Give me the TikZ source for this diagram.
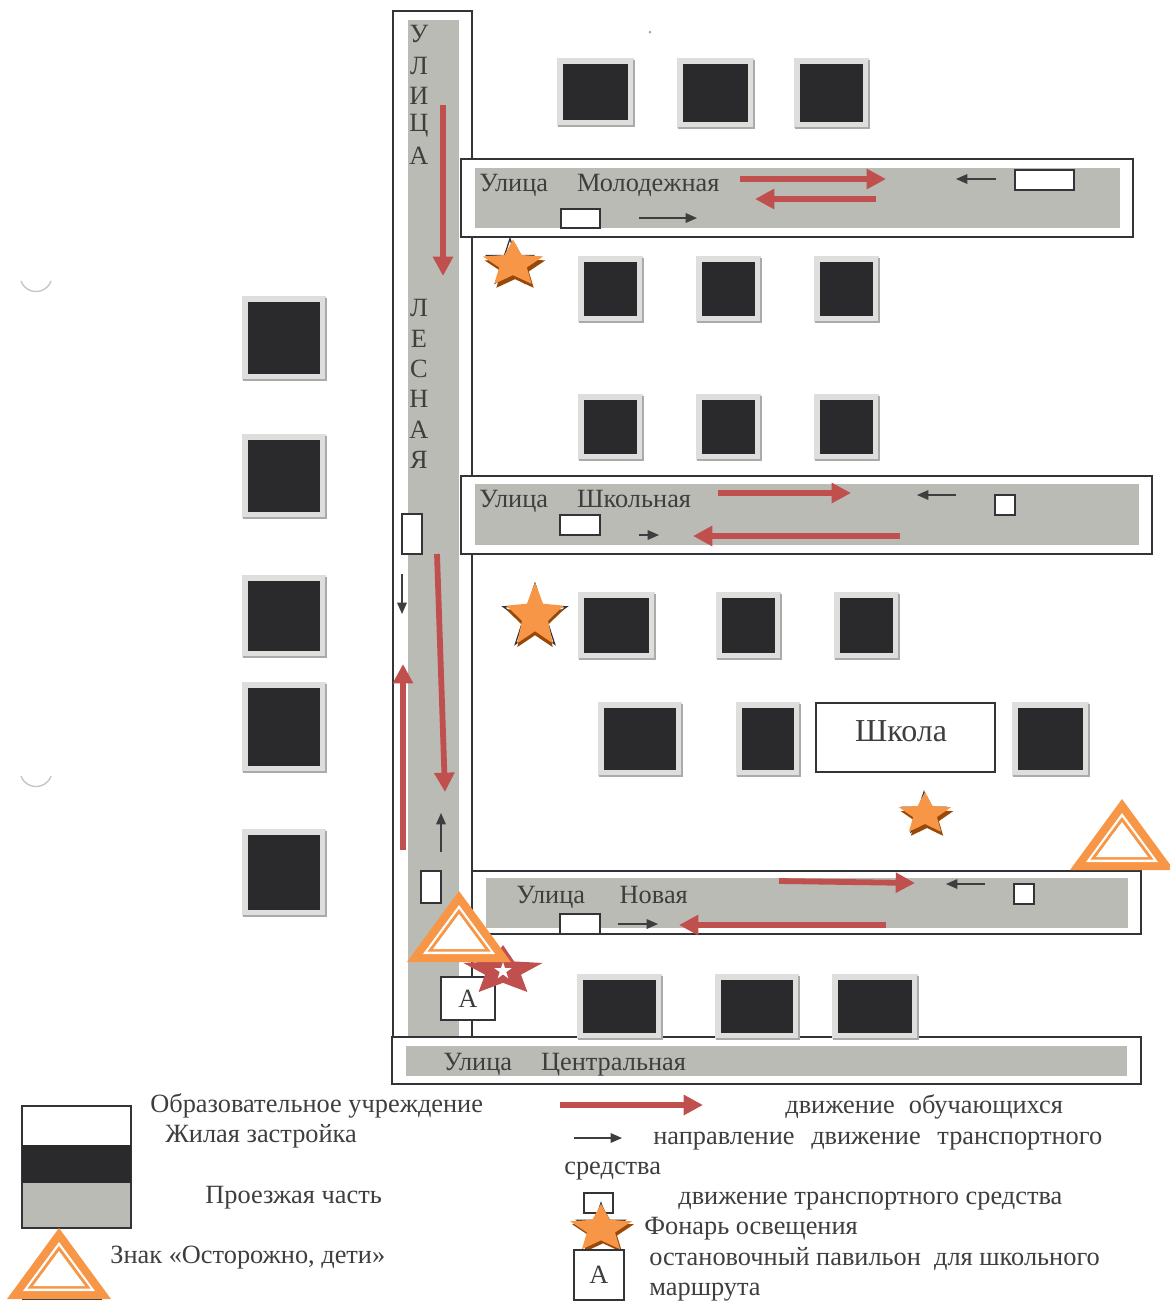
\documentclass[tikz,border=0pt]{standalone}
\usepackage{fontspec}
\setmainfont{Liberation Serif}
\usepackage{xcolor}
\usetikzlibrary{shapes,arrows.meta}
\definecolor{roadgray}{RGB}{186,187,181}
\definecolor{housedark}{RGB}{42,42,44}
\definecolor{houseedge}{RGB}{222,222,220}
\definecolor{houseshade}{RGB}{170,170,168}
\definecolor{pathred}{RGB}{192,80,77}
\definecolor{signorange}{RGB}{247,150,70}
\definecolor{starshade}{RGB}{152,72,7}
\definecolor{textgray}{RGB}{62,62,62}
\definecolor{framegray}{RGB}{50,52,56}
\tikzset{
    road/.style={fill=roadgray, draw=none},
    frame/.style={draw=framegray, fill=white, line width=0.8pt},
    house/.style={fill=housedark, draw=houseedge, line width=3.2pt},
    carbox/.style={draw=framegray, fill=white, line width=0.9pt},
    pupilpath/.style={draw=pathred, line width=3.3pt, -{Triangle[length=11pt,width=11pt]}},
    carpath/.style={draw=textgray, line width=0.8pt, -{Triangle[length=6.5pt,width=5.5pt]}},
    caption/.style={anchor=west, inner sep=0pt, text=textgray, font=\fontsize{15}{17}\selectfont, text height=11.5pt, text depth=1.5pt},
    letter/.style={inner sep=0pt, text=textgray, font=\fontsize{15}{17}\selectfont},
    lampbase/.style={star, star points=5, star point ratio=2.618, inner sep=0pt, transform shape},
    lampfat/.style={lampbase, star point ratio=2.2},
    warnsign/.pic={
        \fill[signorange] (0,0) -- (-52,71) -- (52,71) -- cycle;
        \fill[white] (0,14) -- (-36,63) -- (36,63) -- cycle;
        \fill[signorange] (0,18) -- (-31.5,60.5) -- (31.5,60.5) -- cycle;
        \fill[white] (0,23) -- (-26,58) -- (26,58) -- cycle;
    }
}

\begin{document}
\begin{tikzpicture}[x=0.02cm, y=-0.02cm]
    \useasboundingbox (0,0) rectangle (1170,1303);

    % Lesnaya street
    \draw[frame] (393,11) rectangle (472,1037);
    \fill[road] (408,20) rectangle (459,1040);

    % Streets across
    \foreach \fx/\fy/\fxx/\fyy/\rx/\ry/\rxx/\ryy in {461/159/1133/237/475/168/1120/228, 461/476/1152/554/475/484/1139/545, 472/871/1141/934/486/878/1128/928, 392/1037/1141/1084/406/1046/1127/1076} {
        \draw[frame] (\fx,\fy) rectangle (\fxx,\fyy);
        \fill[road] (\rx,\ry) rectangle (\rxx,\ryy);
    }

    % Houses
    \foreach \x/\y/\xx/\yy in {563/64/628/120, 683/64/748/122, 800/64/863/122,
        584/262/637/316, 702/262/755/316, 820/262/873/316,
        584/400/637/454, 702/400/755/454, 820/400/873/454,
        584/598/649/653, 722/598/775/653, 840/598/893/653,
        604/708/676/770, 742/708/794/770, 1018/708/1083/770,
        583/980/656/1033, 721/980/793/1033, 838/980/912/1033,
        248/302/320/374, 248/440/320/512, 248/581/320/651, 248/688/320/766, 248/835/320/910} {
        \draw[house] (\x-3,\y-3) rectangle (\xx+3,\yy+3);
        \draw[houseshade, line width=1.1pt] (\x-5,\yy+6) -- (\xx+6,\yy+6) -- (\xx+6,\y-4);
    }

    % School
    \node[draw=framegray, fill=white, line width=0.8pt, minimum width=3.58cm, minimum height=1.38cm, inner sep=0pt] (school) at (905.5,737.5) {};
    \node[inner sep=0pt, text=textgray, font=\fontsize{18.2}{20}\selectfont] (schoolname) at (901,731) {Школа};

    % Street names
    \node[caption] (molodname) at (479,183) {Улица\hspace{16.5pt}Молодежная};
    \node[caption] (shkolname) at (479,499) {Улица\hspace{16.5pt}Школьная};
    \node[caption] (novayaname) at (516,895) {Улица\hspace{19.7pt}Новая};
    \node[caption] (centrname) at (443,1062) {Улица\hspace{16.5pt}Центральная};
    \foreach \ch/\y in {У/34, Л/66, И/96, Ц/126, А/156, Л/308, Е/339, С/369, Н/399, А/430, Я/460} {
        \node[letter] at (419,\y) {\ch};
    }

    % Vehicles
    \foreach \x/\y/\xx/\yy in {1015/170/1074/190, 561/209/600/228, 995/495/1015/515, 560/515/600/535, 402/514/422/554, 421/871/441/903, 1014/884/1034/904, 560/914/600/934, 584/1193/613/1213} {
        \draw[carbox] (\x,\y) rectangle (\xx,\yy);
    }

    % Pupils
    \foreach \ax/\ay/\bx/\by in {443/105/443/276, 740/179/886/179, 876/199/755/199, 718/493/851/493, 900/536/693/536, 437/554/445/792, 403/850/403/664, 779/881/915/883, 886/925/679/925, 560/1105/703/1105} {
        \draw[pupilpath] (\ax,\ay) -- (\bx,\by);
    }

    % Traffic
    \foreach \ax/\ay/\bx/\by in {996/179/956/179, 639/218/697/218, 956/495/917/495, 639/535/659/535, 402/574/402/614, 441/852/441/813, 985/884/946/884, 618/924/658/924, 574/1138/622/1138} {
        \draw[carpath] (\ax,\ay) -- (\bx,\by);
    }

    % Lamps
    \foreach \name/\x/\y/\sx/\sy/\ox/\oy/\wide/\s in {lampa/510/263/515/268/513/264/1.3/0.98, lampb/535/617/535/620/535/616/0.9/1.34, lampc/924/814/927/818/925/814/1.25/0.88, lampd/601/1228/603/1232/601/1229/1.3/1.0} {
        \node[lampbase, draw=framegray, fill=white, line width=0.7pt, minimum size=\s cm] (\name out) at (\x,\y) {};
        \node[lampfat, fill=starshade, minimum size=\s cm, xscale=\wide] (\name shade) at (\sx,\sy) {};
        \node[lampfat, fill=signorange, minimum size=\s cm, xscale=\wide] (\name) at (\ox,\oy) {};
    }

    % Bus stop
    \node[draw=framegray, fill=white, line width=0.9pt, minimum width=1.08cm, minimum height=0.86cm, inner sep=0pt, text=textgray, font=\fontsize{15}{17}\selectfont] (stop) at (468,998.5) {А};
    \node[lampfat, fill=pathred, minimum size=1.04cm, xscale=1.6] (redstar) at (503,971) {};
    \node[lampbase, fill=white, minimum size=0.36cm] (redcore) at (503,971) {};

    % Signs
    \pic (signa) at (459,891) {warnsign};
    \pic (signb) at (1122,799) {warnsign};

    % Legend
    \draw[frame] (22,1106) rectangle (131,1228);
    \fill[housedark] (22,1145) rectangle (131,1183);
    \fill[road] (23,1183) rectangle (130,1227);
    \draw[framegray, line width=1.4pt] (22,1299) -- (102,1299);
    \pic (signc) at (59,1228) {warnsign};
    \node[draw=framegray, fill=white, line width=0.9pt, minimum width=1cm, minimum height=1cm, inner sep=0pt, text=textgray, font=\fontsize{15}{17}\selectfont] (stoplegend) at (599,1275) {А};

    \foreach \name/\x/\y/\txt in {educ/150/1104/Образовательное учреждение, home/165/1134/Жилая застройка, lane/205/1195/Проезжая часть, sign/110/1255/Знак «Осторожно{,} дети», pupils/785/1105/движение\hspace{8pt}обучающихся, direct/653/1136/направление\hspace{9.5pt}движение\hspace{9.5pt}транспортного, direct2/564/1166/средства, moving/678/1196/движение транспортного средства, lamp/644/1226/Фонарь освещения, stopa/649/1257/остановочный павильон\hspace{7.5pt}для школьного, stopb/649/1287/маршрута} {
        \node[caption] (\name) at (\x,\y) {\txt};
    }

    % Punch holes and specks
    \draw[gray!45, line width=0.8pt] (21,281) arc (160:20:16 and 16);
    \draw[gray!45, line width=0.8pt] (21,776) arc (160:20:16 and 16);
    \fill[gray!70] (650,32) circle (1.5);

\end{tikzpicture}
\end{document}
